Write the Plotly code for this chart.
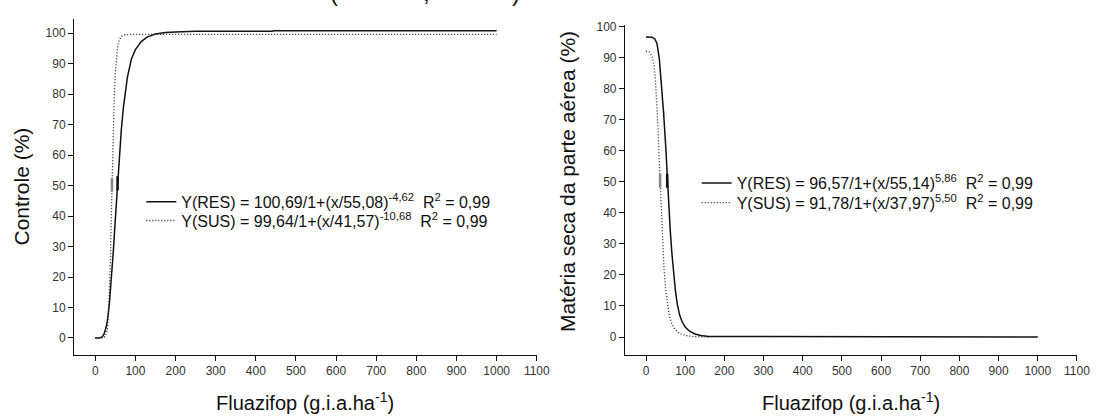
import plotly.graph_objects as go

# ---------------- data ----------------
# Left panel: Controle (%)
ctrl_res_x = [0, 10, 17, 22, 27, 30, 35, 40, 45, 50, 55, 60, 65, 70, 75, 80, 90, 100, 115, 130, 150, 175, 200, 250, 440, 445, 1000]
ctrl_res_y = [0, 0, 0.3, 1.3, 3.5, 5.5, 11, 19, 28.5, 39, 50, 60, 68.5, 75.5, 81, 85.5, 91.5, 94.6, 97.3, 98.8, 99.7, 100.2, 100.4, 100.6, 100.6, 100.8, 100.8]
ctrl_sus_x = [0, 20, 25, 30, 33, 36, 38, 40, 41.5, 43, 45, 47.5, 50, 53, 56, 60, 65, 72, 85, 1000]
ctrl_sus_y = [0, 0.1, 0.5, 3, 7.5, 16, 27, 40, 50, 59, 70, 80, 87.5, 93, 95.8, 97.8, 99, 99.4, 99.6, 99.6]
ctrl_ed50_x = [55.5, 41.6]
ctrl_ed50_y = [50.8, 50.3]

# Right panel: Matéria seca da parte aérea (%)
ms_res_x = [0, 15, 22, 28, 34, 40, 45, 50, 54, 58, 62, 66, 70, 75, 80, 86, 92, 100, 112, 125, 140, 160, 1000]
ms_res_y = [96.6, 96.5, 96, 94.5, 89.5, 80.5, 72, 62, 52, 42.5, 34, 27, 21, 15, 10.5, 7, 5, 3.2, 1.8, 1, 0.5, 0.2, 0]
ms_sus_x = [0, 8, 15, 20, 24, 28, 31, 34, 37, 40, 43, 46, 50, 55, 60, 66, 75, 85, 100, 120, 160]
ms_sus_y = [92, 91.8, 90.5, 88, 83, 74, 66, 56, 46, 37, 29, 22, 15.5, 10, 6.5, 4.2, 2.3, 1.2, 0.5, 0.2, 0]
ms_ed50_x = [54, 36]
ms_ed50_y = [50.3, 50.3]

x_ticks = list(range(0, 1101, 100))
y_ticks = list(range(0, 101, 10))

ctrl_names = ["Y(RES) = 100,69/1+(x/55,08)<sup>-4,62</sup>\u00a0\u00a0R<sup>2</sup> = 0,99",
              "Y(SUS) = 99,64/1+(x/41,57)<sup>-10,68</sup>\u00a0\u00a0R<sup>2</sup> = 0,99"]
ms_names = ["Y(RES) = 96,57/1+(x/55,14)<sup>5,86</sup>\u00a0\u00a0R<sup>2</sup> = 0,99",
            "Y(SUS) = 91,78/1+(x/37,97)<sup>5,50</sup>\u00a0\u00a0R<sup>2</sup> = 0,99"]

x_title = "Fluazifop (g.i.a.ha<sup>-1</sup>)"
y_title_left = "Controle (%)"
y_title_right = "Matéria seca da parte aérea (%)"

FONT = "Arial, 'Liberation Sans', sans-serif"
W, H = 1104, 417

solid = dict(color="#111111", width=1.5)
dotted = dict(color="#222222", width=1.3, dash="1px,2px")
ed50_marker = dict(symbol="line-ns", size=10, line=dict(width=2.5, color=["#111111", "#888888"]))

fig = go.Figure()
fig.add_trace(go.Scatter(x=ctrl_res_x, y=ctrl_res_y, mode="lines", line=solid,
                         name=ctrl_names[0], xaxis="x", yaxis="y", legend="legend"))
fig.add_trace(go.Scatter(x=ctrl_sus_x, y=ctrl_sus_y, mode="lines", line=dotted,
                         name=ctrl_names[1], xaxis="x", yaxis="y", legend="legend2"))
fig.add_trace(go.Scatter(x=ctrl_ed50_x, y=ctrl_ed50_y, mode="markers", showlegend=False,
                         marker=ed50_marker, xaxis="x", yaxis="y"))
fig.add_trace(go.Scatter(x=ms_res_x, y=ms_res_y, mode="lines", line=solid,
                         name=ms_names[0], xaxis="x2", yaxis="y2", legend="legend3"))
fig.add_trace(go.Scatter(x=ms_sus_x, y=ms_sus_y, mode="lines", line=dotted,
                         name=ms_names[1], xaxis="x2", yaxis="y2", legend="legend4"))
fig.add_trace(go.Scatter(x=ms_ed50_x, y=ms_ed50_y, mode="markers", showlegend=False,
                         marker=ed50_marker, xaxis="x2", yaxis="y2"))

axis_common = dict(showline=True, linecolor="#111111", linewidth=1.2, ticks="outside",
                   ticklen=5, tickwidth=1.2, tickcolor="#111111", showgrid=False,
                   zeroline=False, tickfont=dict(family=FONT, size=12, color="#333333"))


def leg(xpx, toppx):
    return dict(x=xpx / W, y=1 - toppx / H, xanchor="left", yanchor="top",
                bgcolor="rgba(0,0,0,0)", borderwidth=0,
                font=dict(family=FONT, size=16, color="#111111"))


fig.update_layout(
    width=W, height=H, margin=dict(l=0, r=0, t=0, b=0),
    paper_bgcolor="white", plot_bgcolor="white",
    font=dict(family=FONT, color="#111111"),
    xaxis=dict(domain=[75 / W, 543.2 / W], range=[-52.7, 1100], tickvals=x_ticks,
               anchor="y", **axis_common),
    yaxis=dict(domain=[1 - 354 / H, 1 - 14 / H], range=[-5.5, 104.7], tickvals=y_ticks,
               anchor="x", **axis_common),
    xaxis2=dict(domain=[632.5 / W, 1089.8 / W], range=[-53.5, 1100], tickvals=x_ticks,
                anchor="y2", **axis_common),
    yaxis2=dict(domain=[1 - 354 / H, 1 - 20 / H], range=[-5.7, 100.5], tickvals=y_ticks,
                anchor="x2", **axis_common),
    legend=leg(143, 182),
    legend2=leg(143, 201),
    legend3=leg(705, 163),
    legend4=leg(705, 183),
    showlegend=True,
)

ann = []
# axis titles
for ref in ["x domain", "x2 domain"]:
    ann.append(dict(text=x_title, xref=ref, yref="paper", x=0.5, y=1 - 401 / H,
                    xanchor="center", yanchor="middle", showarrow=False,
                    font=dict(family=FONT, size=20, color="#111111")))
ann.append(dict(text=y_title_left, xref="paper", yref="paper", x=22 / W, y=1 - 184 / H,
                xanchor="center", yanchor="middle", textangle=-90, showarrow=False,
                font=dict(family=FONT, size=21, color="#111111")))
ann.append(dict(text=y_title_right, xref="paper", yref="paper", x=575 / W, y=1 - 179 / H,
                xanchor="center", yanchor="middle", textangle=-90, showarrow=False,
                font=dict(family=FONT, size=21, color="#111111")))
# cut-off heading fragment at the very top (only its lower edge is visible)
for t, px in [("(", 338), (",", 432), (")", 522)]:
    ann.append(dict(text=t, xref="paper", yref="paper", x=px / W, y=1 + 13 / H,
                    xanchor="center", yanchor="middle", showarrow=False,
                    font=dict(family=FONT, size=24, color="#111111")))
fig.update_layout(annotations=ann)

fig.write_html("out.html", config={"displayModeBar": False},
               post_script="document.body.style.margin='0';document.body.style.overflow='hidden';")
